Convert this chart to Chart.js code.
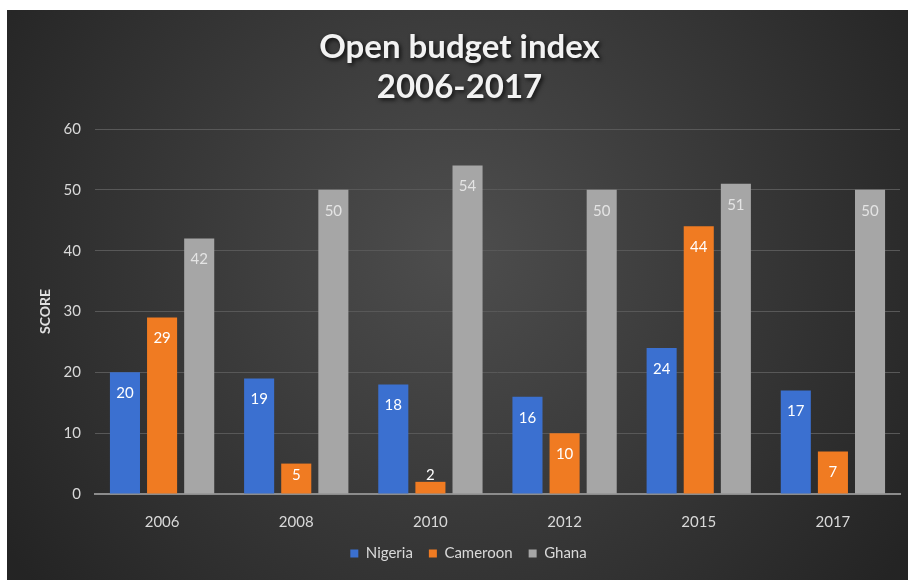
<!DOCTYPE html>
<html>
<head>
<meta charset="utf-8">
<title>Open budget index 2006-2017</title>
<script src="https://cdn.jsdelivr.net/npm/chart.js@4.4.1/dist/chart.umd.min.js"></script>
<style>
  body { margin: 0; background: #ffffff; overflow: hidden; }
  #wrap { position: absolute; left: 7px; top: 10px; width: 901px; height: 570px; }
</style>
</head>
<body>
<div id="wrap"><canvas id="budgetChart"></canvas></div>
<script>
// Survey years and scores per country
const years = ['2006', '2008', '2010', '2012', '2015', '2017'];
const nigeria = [20, 19, 18, 16, 24, 17];
const cameroon = [29, 5, 2, 10, 44, 7];
const ghana = [42, 50, 54, 50, 51, 50];
const titleLines = ['Open budget index', '2006-2017'];

const FONT = 'Lato, "Open Sans", sans-serif';

// Dark panel with a soft light spot in the middle
const backgroundPlugin = {
    id: 'panelBackground',
    beforeDraw(chart) {
        const { ctx, width, height } = chart;
        const g = ctx.createRadialGradient(width * 0.5, height * 0.42, 20, width * 0.5, height * 0.42, width * 0.6);
        g.addColorStop(0, '#4c4c4c');
        g.addColorStop(1, '#242424');
        ctx.save();
        ctx.fillStyle = g;
        ctx.fillRect(0, 0, width, height);
        ctx.restore();
    }
};

// Two-line title with a drop shadow
const titlePlugin = {
    id: 'shadowTitle',
    afterDraw(chart) {
        const { ctx, width } = chart;
        ctx.save();
        ctx.font = 'bold 33px ' + FONT;
        ctx.fillStyle = '#f2f2f2';
        ctx.textAlign = 'center';
        ctx.textBaseline = 'middle';
        ctx.shadowColor = 'rgba(0,0,0,0.75)';
        ctx.shadowBlur = 4;
        ctx.shadowOffsetX = 2;
        ctx.shadowOffsetY = 2;
        titleLines.forEach((line, i) => ctx.fillText(line, width / 2 + 2, 37 + i * 40));
        ctx.restore();
    }
};

// Value labels just inside the top of each bar
const valueLabelPlugin = {
    id: 'valueLabels',
    afterDatasetsDraw(chart) {
        const { ctx } = chart;
        ctx.save();
        ctx.font = '15px ' + FONT;
        ctx.textAlign = 'center';
        ctx.textBaseline = 'middle';
        chart.data.datasets.forEach((ds, i) => {
            const meta = chart.getDatasetMeta(i);
            ctx.fillStyle = i === 2 ? '#e4e4e4' : '#ffffff';
            meta.data.forEach((bar, j) => {
                const y = Math.min(bar.y + 21, bar.base - 18);
                ctx.fillText(String(ds.data[j]), bar.x, y);
            });
        });
        ctx.restore();
    }
};

const ctx = document.getElementById('budgetChart').getContext('2d');
new Chart(ctx, {
    type: 'bar',
    data: {
        labels: years,
        datasets: [
            { label: 'Nigeria', data: nigeria, backgroundColor: '#3b70d0' },
            { label: 'Cameroon', data: cameroon, backgroundColor: '#f07b22' },
            { label: 'Ghana', data: ghana, backgroundColor: '#a6a6a6' }
        ]
    },
    options: {
        responsive: true,
        maintainAspectRatio: false,
        animation: false,
        datasets: {
            bar: { categoryPercentage: 0.83, barPercentage: 0.81 }
        },
        layout: { padding: { top: 119, left: 30, right: 8, bottom: 9 } },
        plugins: {
            title: { display: false },
            tooltip: { enabled: false },
            legend: {
                position: 'bottom',
                labels: {
                    color: '#d9d9d9',
                    font: { family: FONT, size: 15 },
                    boxWidth: 8,
                    boxHeight: 8,
                    padding: 16
                }
            }
        },
        scales: {
            x: {
                grid: { display: false },
                border: { color: '#8c8c8c', width: 2 },
                ticks: { color: '#d9d9d9', font: { family: FONT, size: 15 }, padding: 11 },
                afterFit(scale) { scale.height = 36; }
            },
            y: {
                min: 0,
                max: 60,
                ticks: { stepSize: 10, color: '#d9d9d9', font: { family: FONT, size: 15 }, padding: 14 },
                grid: { color: '#585858', lineWidth: 1, drawTicks: false },
                border: { display: false },
                title: {
                    display: true,
                    text: 'SCORE',
                    color: '#e0e0e0',
                    font: { family: FONT, size: 14, weight: 'bold' },
                    padding: 0
                },
                afterFit(scale) { scale.width = 58; }
            }
        }
    },
    plugins: [backgroundPlugin, titlePlugin, valueLabelPlugin]
});
</script>
</body>
</html>
